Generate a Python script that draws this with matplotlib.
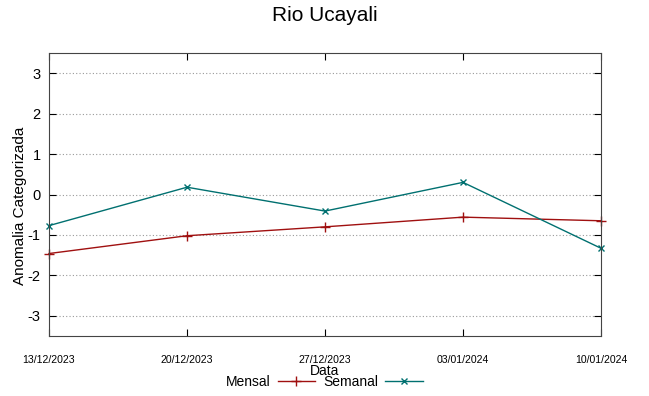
import matplotlib
matplotlib.use("Agg")
import matplotlib.pyplot as plt

# Data
dates = ["13/12/2023", "20/12/2023", "27/12/2023", "03/01/2024", "10/01/2024"]
mensal = [-1.46, -1.02, -0.80, -0.56, -0.65]
semanal = [-0.77, 0.18, -0.41, 0.30, -1.33]
yticks = [-3, -2, -1, 0, 1, 2, 3]

plt.rcParams["font.family"] = ["Liberation Sans", "DejaVu Sans"]

fig = plt.figure(figsize=(6.49, 3.96), dpi=100)
ax = fig.add_axes([49 / 649, 60 / 396, 552 / 649, 283 / 396])

x = list(range(len(dates)))
ax.plot(x, mensal, color="#a01010", marker="+", markersize=7, linewidth=1.0,
        label="Mensal", clip_on=False)
ax.plot(x, semanal, color="#007070", marker="x", markersize=5, linewidth=1.0,
        label="Semanal", clip_on=False)

ax.set_xlim(0, len(dates) - 1)
ax.set_ylim(-3.5, 3.5)
ax.set_yticks(yticks)
ax.set_yticklabels([str(v) for v in yticks], fontsize=10.5)
ax.set_xticks(x)
ax.set_xticklabels(dates, fontsize=7.6)
ax.tick_params(axis="x", direction="in", top=True, pad=14, length=5)
ax.tick_params(axis="y", direction="in", right=True, pad=6, length=5)
ax.grid(axis="y", linestyle=(0, (1, 2)), color="#999999", linewidth=0.8)
for s in ax.spines.values():
    s.set_color("#444444")

ax.set_ylabel("Anomalia Categorizada", fontsize=11)
ax.yaxis.set_label_coords(-0.040, 0.46)
ax.set_xlabel("Data", fontsize=10, labelpad=-1)
fig.suptitle("Rio Ucayali", fontsize=15, y=0.985)

fig.legend(loc="center", bbox_to_anchor=(0.5, 1 - 382 / 396),
           ncol=2, frameon=False, markerfirst=False, handlelength=2.7,
           columnspacing=0.6, handletextpad=0.5, fontsize=10)

fig.savefig("out.png", dpi=100)
